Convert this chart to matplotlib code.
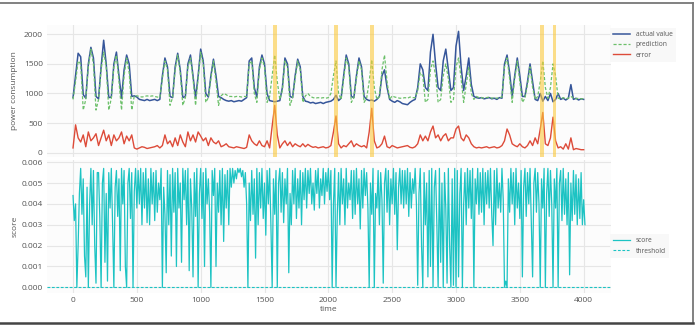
import numpy as np
import matplotlib
matplotlib.use("Agg")
import matplotlib.pyplot as plt
from matplotlib.lines import Line2D

# power series sampled every 20 time steps (0..4000)
t_power = np.arange(0, 4001, 20)
actual = [
    930, 1300, 1680, 1620, 980, 920, 1500, 1780, 1600, 950,
    910, 1450, 1900, 1500, 930, 940, 1500, 1700, 1300, 920,
    1400, 1650, 1500, 950, 960, 940, 900, 890, 880, 900,
    880, 890, 900, 880, 900, 1300, 1600, 1450, 950, 930,
    1450, 1680, 1400, 930, 950, 1500, 1650, 1300, 920, 1300,
    1750, 1550, 1000, 940, 1300, 1580, 1300, 950, 930, 900,
    880, 870, 880, 860, 870, 880, 870, 900, 930, 1550,
    1600, 1100, 940, 1450, 1650, 1500, 1000, 880, 870, 860,
    870, 880, 1100, 1600, 1500, 950, 930, 1300, 1580, 1450,
    950, 870, 860, 840, 850, 830, 840, 850, 830, 850,
    860, 870, 900, 970, 880, 920, 1300, 1650, 1500, 950,
    930, 1300, 1600, 1450, 950, 900, 880, 890, 870, 900,
    950, 1300, 1400, 1100, 900, 870, 850, 880, 860, 830,
    820, 810, 850, 880, 900, 1100, 1500, 1400, 1100, 1050,
    1700, 2000, 1500, 1100, 1050, 1550, 1750, 1400, 1050, 1100,
    1800, 2050, 1450, 1050, 1300, 1600, 1150, 950, 930, 920,
    930, 910, 920, 930, 910, 920, 900, 930, 920, 1500,
    1650, 1350, 950, 1300, 1600, 1300, 950, 950, 1200, 1500,
    1200, 900, 880, 1000, 870, 950, 880, 1000, 860, 900,
    1000, 900, 920, 890, 920, 1150, 900, 920, 890, 910,
    900,
]
prediction = [
    900, 1200, 1550, 1500, 720, 900, 1450, 1750, 1500, 720,
    900, 1400, 1700, 1450, 720, 920, 1450, 1650, 1200, 720,
    1300, 1600, 1350, 720, 960, 960, 950, 940, 950, 960,
    950, 960, 950, 940, 930, 1250, 1550, 1400, 800, 930,
    1400, 1650, 1350, 800, 930, 1450, 1600, 1250, 800, 1250,
    1700, 1500, 850, 930, 1250, 1550, 1200, 800, 960, 1000,
    980, 950, 950, 940, 950, 950, 940, 950, 950, 1500,
    1550, 1000, 850, 1400, 1600, 1450, 850, 950, 1300, 1650,
    1200, 900, 1050, 1550, 1450, 800, 930, 1250, 1550, 1400,
    850, 960, 1000, 950, 930, 920, 930, 920, 930, 920,
    930, 1000, 1300, 1550, 1000, 900, 1250, 1600, 1450, 850,
    930, 1250, 1550, 1400, 850, 920, 1200, 1570, 1100, 900,
    950, 1400, 1650, 1200, 900, 960, 940, 930, 920, 920,
    930, 920, 940, 930, 930, 1050, 1350, 1300, 850, 900,
    1400, 1550, 1300, 850, 900, 1300, 1500, 1250, 850, 900,
    1450, 1600, 1250, 850, 1150, 1450, 1000, 900, 950, 930,
    930, 920, 930, 940, 920, 930, 920, 930, 940, 1450,
    1600, 1250, 850, 1250, 1550, 1200, 850, 920, 1150, 1450,
    1100, 900, 950, 1200, 1550, 1100, 920, 1100, 1500, 1300,
    920, 910, 930, 910, 920, 950, 920, 910, 920, 910,
    910,
]
error = [
    80, 470, 250, 180, 300, 100, 350, 200, 250, 320,
    120, 250, 380, 200, 300, 120, 300, 200, 250, 350,
    150, 280, 200, 300, 80, 60, 80, 100, 90, 70,
    80, 90, 100, 120, 80, 120, 300, 150, 200, 100,
    250, 120, 300, 180, 100, 350, 200, 300, 180, 350,
    280, 200, 250, 120, 250, 180, 150, 200, 100, 120,
    150, 100, 90, 80, 100, 90, 80, 70, 90, 300,
    200, 150, 120, 200, 120, 100, 200, 80, 450, 800,
    300, 80, 150, 200, 120, 180, 100, 150, 120, 100,
    150, 100, 140, 110, 90, 100, 80, 90, 100, 80,
    90, 120, 350, 620, 150, 80, 120, 100, 150, 200,
    100, 150, 120, 100, 120, 80, 350, 750, 200, 80,
    100, 150, 280, 100, 80, 120, 100, 80, 90, 100,
    110, 120, 90, 80, 100, 150, 300, 200, 280, 200,
    350, 450, 250, 300, 200, 280, 320, 200, 250, 250,
    400, 450, 250, 200, 300, 250, 150, 100, 80, 90,
    80, 90, 100, 80, 90, 100, 80, 90, 120, 200,
    400, 300, 150, 120, 100, 150, 100, 80, 120, 200,
    120, 250, 150, 400, 680, 150, 120, 250, 600, 200,
    80, 100, 60, 150, 60, 250, 50, 70, 60, 50,
    50,
]

# anomaly score sampled every 10 time steps (0..4010), in units of 1e-4
t_score = np.arange(0, 4011, 10)
score_e4 = [
    44, 32, 40, 0, 20, 45, 57, 35, 52, 15, 5, 48, 0, 40, 57, 30, 56, 20, 2, 55,
    55, 33, 0, 50, 57, 12, 45, 3, 55, 38, 57, 30, 0, 48, 56, 34, 52, 8, 57, 40,
    56, 10, 0, 50, 57, 33, 55, 0, 46, 57, 38, 56, 40, 57, 30, 55, 38, 57, 31, 52,
    30, 57, 40, 55, 32, 56, 36, 50, 42, 57, 0, 48, 35, 7, 56, 30, 54, 15, 57, 36,
    55, 10, 57, 38, 50, 12, 57, 42, 56, 30, 57, 8, 52, 38, 5, 55, 34, 57, 0, 45,
    57, 33, 55, 10, 57, 40, 52, 36, 0, 56, 44, 57, 10, 50, 36, 56, 30, 57, 22, 54,
    38, 56, 30, 57, 48, 57, 50, 56, 52, 57, 55, 57, 53, 56, 48, 55, 40, 0, 50, 32,
    56, 35, 52, 14, 57, 30, 55, 38, 57, 33, 50, 25, 56, 40, 57, 30, 0, 52, 35, 56,
    0, 50, 57, 36, 55, 31, 52, 40, 57, 7, 45, 30, 56, 40, 57, 33, 52, 38, 56, 30,
    55, 42, 57, 38, 56, 45, 57, 40, 50, 37, 56, 45, 57, 38, 52, 44, 57, 40, 55, 46,
    57, 42, 56, 0, 40, 57, 0, 35, 55, 30, 57, 40, 52, 30, 57, 38, 50, 42, 56, 33,
    56, 35, 57, 40, 52, 28, 56, 38, 57, 44, 55, 38, 0, 50, 35, 57, 0, 45, 38, 56,
    30, 55, 42, 2, 50, 57, 36, 56, 30, 52, 40, 57, 35, 55, 18, 48, 57, 40, 56, 38,
    56, 40, 57, 34, 55, 38, 52, 45, 57, 40, 1, 45, 57, 20, 0, 55, 30, 50, 5, 56,
    10, 57, 0, 48, 56, 30, 0, 57, 12, 50, 0, 55, 38, 2, 57, 20, 0, 52, 1, 57,
    0, 56, 5, 45, 57, 0, 40, 55, 30, 57, 38, 56, 33, 57, 0, 52, 40, 57, 35, 55,
    36, 57, 30, 55, 40, 56, 38, 57, 35, 20, 56, 30, 57, 38, 50, 36, 57, 42, 0, 3,
    0, 52, 36, 57, 40, 55, 30, 57, 38, 50, 33, 56, 5, 48, 57, 34, 55, 40, 57, 30,
    5, 50, 57, 36, 55, 40, 0, 52, 38, 57, 0, 45, 57, 34, 56, 40, 0, 52, 38, 57,
    0, 50, 56, 32, 57, 35, 52, 30, 55, 6, 50, 32, 56, 35, 54, 30, 52, 33, 55, 30,
    42, 30,
]
score = np.array(score_e4) * 1e-4
threshold = 0.0

anomalies = [1582, 2058, 2341, 3673, 3770]

plt.rcParams['font.family'] = ['Open Sans', 'DejaVu Sans']

fig = plt.figure(figsize=(6.97, 3.25), dpi=100)
ax1 = fig.add_axes([0.0674, 0.517, 0.809, 0.406])
ax2 = fig.add_axes([0.0674, 0.0985, 0.809, 0.409], sharex=ax1)

tick_c = '#555555'
for ax in (ax1, ax2):
    ax.set_facecolor('#fcfcfc')
    ax.grid(True, color='#e6e6e6', linewidth=0.8)
    ax.set_axisbelow(True)
    for s in ax.spines.values():
        s.set_visible(False)
    ax.tick_params(length=0, labelsize=6, colors=tick_c, pad=3)

ax1.plot(t_power, actual, color='#36569a', lw=1.1, label='actual value')
ax1.plot(t_power, prediction, color='#6cc06a', lw=0.9, ls=(0, (2.5, 1.5)), label='prediction')
ax1.plot(t_power, error, color='#dd4b39', lw=1.0, label='error')
for a in anomalies:
    ax1.axvspan(a - 14, a + 14, color='#fbc93d', alpha=0.6, lw=0, zorder=5)
ax1.set_ylim(-73, 2157)
ax1.set_yticks([0, 500, 1000, 1500, 2000])
ax1.set_ylabel('power consumption', fontsize=6, color=tick_c, labelpad=4)
plt.setp(ax1.get_xticklabels(), visible=False)

ax2.plot(t_score, score, color='#1cc3c3', lw=0.9, label='score')
ax2.axhline(threshold, color='#1cc3c3', lw=0.8, ls=(0, (2.5, 1.5)), label='threshold')
ax2.set_ylim(-0.00027, 0.0061)
ax2.set_yticks([0, 0.001, 0.002, 0.003, 0.004, 0.005, 0.006])
ax2.yaxis.set_major_formatter(plt.FormatStrFormatter('%.3f'))
ax2.set_xlim(-204, 4213)
ax2.set_xticks([0, 500, 1000, 1500, 2000, 2500, 3000, 3500, 4000])
ax2.set_ylabel('score', fontsize=6, color=tick_c, labelpad=2)
ax2.set_xlabel('time', fontsize=6, color=tick_c, labelpad=1)

leg_kw = dict(loc='upper left', bbox_transform=fig.transFigure, fontsize=4.8,
              frameon=True, facecolor='#f7f7f7', edgecolor='none', fancybox=False,
              handlelength=2.6, borderpad=0.5, labelspacing=0.5, handletextpad=0.8)
l1 = ax1.legend(bbox_to_anchor=(0.870, 0.925), **leg_kw)
l2 = ax2.legend(bbox_to_anchor=(0.870, 0.29), **leg_kw)
for leg in (l1, l2):
    for txt in leg.get_texts():
        txt.set_color('#555555')

# outer frame (top, right, bottom)
fig.add_artist(Line2D([0, 0.994], [0.991, 0.991], transform=fig.transFigure, color='#777777', lw=1.3))
fig.add_artist(Line2D([0.994, 0.994], [0.006, 0.991], transform=fig.transFigure, color='#777777', lw=1.3))
fig.add_artist(Line2D([0, 0.994], [0.006, 0.006], transform=fig.transFigure, color='#444444', lw=1.8))

fig.savefig('out.png', dpi=100)
